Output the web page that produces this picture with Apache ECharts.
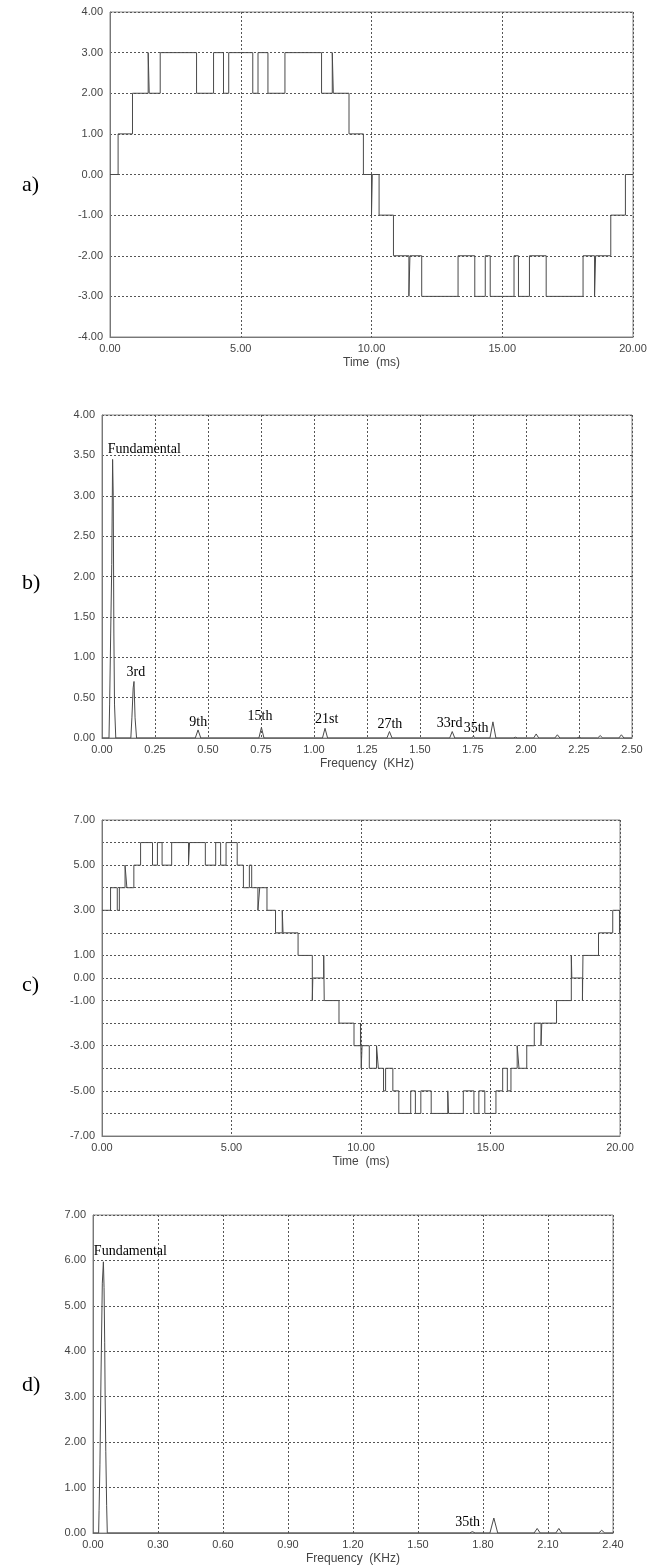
<!DOCTYPE html>
<html>
<head>
<meta charset="utf-8">
<title>Multilevel waveforms and spectra</title>
<script src="https://cdn.jsdelivr.net/npm/echarts/dist/echarts.min.js"></script>
<style>
  html, body { margin: 0; padding: 0; background: #fff; }
  #chart { width: 658px; height: 1568px; }
</style>
</head>
<body>
<div id="chart"></div>
<script>
// a) 5-level output voltage, time (ms) where each level starts
var waveATime = [0, 0.31, 0.86, 1.46, 1.50, 1.92, 3.31, 3.96, 4.34, 4.54,
                 5.46, 5.66, 6.04, 6.69, 8.09, 8.50, 8.54, 9.14, 9.69, 10.00,
                 10.03, 10.29, 10.84, 11.43, 11.47, 11.92, 13.31, 13.95, 14.35, 14.54,
                 15.45, 15.62, 16.04, 16.68, 18.09, 18.53, 18.57, 19.15, 19.71, 20];
var waveALevel = [0, 1, 2, 3, 2, 3, 2, 3, 2, 3,
                  2, 3, 2, 3, 2, 3, 2, 1, 0, -1,
                  0, -1, -2, -3, -2, -3, -2, -3, -2, -3,
                  -2, -3, -2, -3, -2, -3, -2, -1, 0, 0];

// b) spectrum of a)
var specBFreq = [0, 0.033, 0.036, 0.041, 0.046, 0.050, 0.053, 0.056, 0.059, 0.065,
                 0.136, 0.141, 0.147, 0.151, 0.156, 0.163,
                 0.440, 0.453, 0.466, 0.740, 0.752, 0.764, 1.040, 1.052, 1.064,
                 1.344, 1.356, 1.368, 1.640, 1.652, 1.664, 1.742, 1.752, 1.762,
                 1.830, 1.844, 1.858, 1.940, 1.950, 1.960, 2.036, 2.048, 2.060,
                 2.136, 2.148, 2.160, 2.240, 2.250, 2.260, 2.338, 2.350, 2.362,
                 2.438, 2.450, 2.462, 2.5];
var specBMag = [0, 0, 0.42, 1.30, 2.15, 3.45, 3.00, 1.30, 0.42, 0,
                0, 0.25, 0.62, 0.70, 0.25, 0,
                0, 0.10, 0, 0, 0.13, 0, 0, 0.12, 0,
                0, 0.08, 0, 0, 0.08, 0, 0, 0.02, 0,
                0, 0.20, 0, 0, 0.01, 0, 0, 0.05, 0,
                0, 0.04, 0, 0, 0.01, 0, 0, 0.03, 0,
                0, 0.04, 0, 0];
var labelsB = ['Fundamental', '3rd', '9th', '15th', '21st', '27th', '33rd', '35th'];
var labelsBX = [0.027, 0.160, 0.454, 0.745, 1.060, 1.358, 1.640, 1.765];
var labelsBY = [3.58, 0.81, 0.20, 0.27, 0.23, 0.17, 0.18, 0.12];

// c) 13-level output voltage
var waveCTime = [0, 0.33, 0.59, 0.67, 0.89, 0.96, 1.23, 1.49, 1.95, 2.14,
                 2.32, 2.69, 3.34, 3.38, 3.99, 4.39, 4.58, 4.79, 5.22, 5.46,
                 5.69, 5.78, 6.02, 6.09, 6.37, 6.70, 6.96, 6.99, 7.57, 8.12,
                 8.14, 8.56, 8.58, 9.15, 9.73, 9.98, 10.01, 10.04, 10.32, 10.60,
                 10.67, 10.87, 10.95, 11.23, 11.46, 11.92, 12.10, 12.31, 12.71, 13.35,
                 13.38, 13.95, 14.36, 14.55, 14.78, 15.21, 15.47, 15.65, 15.79, 16.03,
                 16.10, 16.40, 16.69, 16.95, 16.98, 17.55, 18.12, 18.14, 18.55, 18.57,
                 19.17, 19.72, 19.98, 20];
var waveCLevel = [3, 4, 3, 4, 5, 4, 5, 6, 5, 6,
                  5, 6, 5, 6, 5, 6, 5, 6, 5, 4,
                  5, 4, 3, 4, 3, 2, 3, 2, 1, -1,
                  0, 1, -1, -2, -3, -2, -4, -3, -4, -3,
                  -4, -5, -4, -5, -6, -5, -6, -5, -6, -5,
                  -6, -5, -6, -5, -6, -5, -4, -5, -4, -3,
                  -4, -3, -2, -3, -2, -1, 1, 0, -1, 1,
                  2, 3, 2, 2];
var ticksC = [7, 5, 3, 1, 0, -1, -3, -5, -7];

// d) spectrum of c)
var specDFreq = [0, 0.026, 0.028, 0.032, 0.037, 0.043, 0.048, 0.051, 0.054, 0.056,
                 0.059, 0.063, 0.066, 1.738, 1.751, 1.764, 1.832, 1.850, 1.868,
                 2.036, 2.050, 2.064, 2.136, 2.150, 2.164, 2.334, 2.348, 2.362, 2.4];
var specDMag = [0, 0, 0.5, 1.5, 3.5, 5.5, 5.97, 5.4, 4.2, 3.0,
                1.8, 0.6, 0, 0, 0.03, 0, 0, 0.33, 0,
                0, 0.10, 0, 0, 0.10, 0, 0, 0.06, 0, 0];
var labelsD = ['Fundamental', '35th'];
var labelsDX = [0.004, 1.729];
var labelsDY = [6.19, 0.24];

var panelNames = ['a)', 'b)', 'c)', 'd)'];

function pairs(xs, ys) {
  return xs.map(function (x, i) { return [x, ys[i]]; });
}

var tickFont = { fontFamily: 'Liberation Sans, Arial', fontSize: 11, color: '#444' };
var gridLine = { show: true, lineStyle: { color: '#555', type: [2, 2], width: 1 } };

function xAxis(idx, min, max, interval, name) {
  return {
    type: 'value', gridIndex: idx, min: min, max: max, interval: interval,
    name: name, nameLocation: 'middle', nameGap: 20,
    nameTextStyle: { fontFamily: 'Liberation Sans, Arial', fontSize: 12, color: '#444' },
    axisLine: { show: true, onZero: false, lineStyle: { color: '#777' } },
    axisTick: { show: false },
    axisLabel: Object.assign({ margin: 6, formatter: function (v) { return v.toFixed(2); } }, tickFont),
    splitLine: gridLine
  };
}
function yAxis(idx, min, max, interval, fmt) {
  return {
    type: 'value', gridIndex: idx, min: min, max: max, interval: interval,
    axisLine: { show: true, onZero: false, lineStyle: { color: '#777' } },
    axisTick: { show: false },
    axisLabel: Object.assign({ margin: 7, formatter: fmt || function (v) { return v.toFixed(2); } }, tickFont),
    splitLine: gridLine
  };
}
// harmonic names written at their data positions
function labelSeries(idx, names, xs, ys) {
  return {
    type: 'scatter', xAxisIndex: idx, yAxisIndex: idx,
    symbolSize: 1, itemStyle: { color: 'rgba(0,0,0,0)' }, silent: true,
    z: 5,
    data: names.map(function (n, i) {
      return {
        name: n, value: [xs[i], ys[i]],
        label: { align: i === 0 ? 'left' : 'center' }
      };
    }),
    label: {
      show: true, position: 'inside', formatter: '{b}', opacity: 1,
      textBorderWidth: 0, textShadowBlur: 0,
      fontFamily: 'Liberation Serif, Times New Roman', fontSize: 14, color: '#000'
    },
    labelLayout: { hideOverlap: false }
  };
}

var chart = echarts.init(document.getElementById('chart'), null, { renderer: 'canvas' });
var lineStyle = { color: '#4a4a4a', width: 1 };

chart.setOption({
  backgroundColor: '#fff',
  animation: false,
  grid: [
    { left: 110, top: 12, width: 523, height: 325, show: true, borderColor: '#888', borderWidth: 1 },
    { left: 102, top: 415, width: 530, height: 323, show: true, borderColor: '#888', borderWidth: 1 },
    { left: 102, top: 820, width: 518, height: 316, show: true, borderColor: '#888', borderWidth: 1 },
    { left: 93, top: 1215, width: 520, height: 318, show: true, borderColor: '#888', borderWidth: 1 }
  ],
  xAxis: [
    xAxis(0, 0, 20, 5, 'Time  (ms)'),
    xAxis(1, 0, 2.5, 0.25, 'Frequency  (KHz)'),
    xAxis(2, 0, 20, 5, 'Time  (ms)'),
    xAxis(3, 0, 2.4, 0.3, 'Frequency  (KHz)')
  ],
  yAxis: [
    yAxis(0, -4, 4, 1),
    yAxis(1, 0, 4, 0.5),
    yAxis(2, -7, 7, 1, function (v) { return ticksC.indexOf(v) >= 0 ? v.toFixed(2) : ''; }),
    yAxis(3, 0, 7, 1)
  ],
  graphic: panelNames.map(function (t, i) {
    return {
      type: 'text', left: 22, top: [174, 572, 974, 1374][i],
      style: { text: t, font: '22px "Liberation Serif", "Times New Roman", serif', fill: '#000' }
    };
  }),
  series: [
    { type: 'line', xAxisIndex: 0, yAxisIndex: 0, step: 'end', showSymbol: false,
      lineStyle: lineStyle, data: pairs(waveATime, waveALevel) },
    { type: 'line', xAxisIndex: 1, yAxisIndex: 1, showSymbol: false,
      lineStyle: lineStyle, data: pairs(specBFreq, specBMag) },
    labelSeries(1, labelsB, labelsBX, labelsBY),
    { type: 'line', xAxisIndex: 2, yAxisIndex: 2, step: 'end', showSymbol: false,
      lineStyle: lineStyle, data: pairs(waveCTime, waveCLevel) },
    { type: 'line', xAxisIndex: 3, yAxisIndex: 3, showSymbol: false,
      lineStyle: lineStyle, data: pairs(specDFreq, specDMag) },
    labelSeries(3, labelsD, labelsDX, labelsDY)
  ]
});
</script>
</body>
</html>
